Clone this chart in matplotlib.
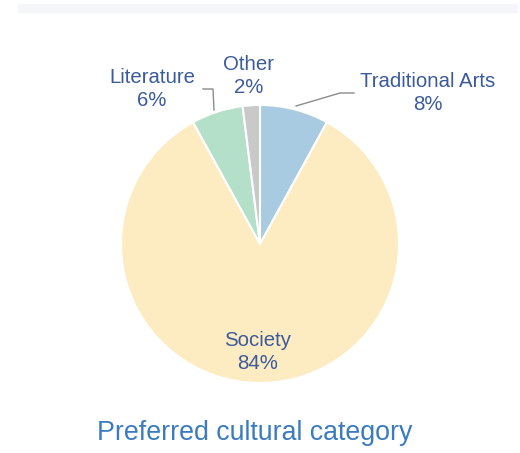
import matplotlib.pyplot as plt

# data
categories = ['Traditional Arts', 'Society', 'Literature', 'Other']
shares = [8, 84, 6, 2]
colors = ['#a8cbe1', '#fdebc2', '#b4e0c9', '#c9c9c9']

label_color = '#3b5b9c'
title_color = '#3b7bc0'

fig = plt.figure(figsize=(5.2, 4.53), dpi=100)
ax = fig.add_axes([0, 0, 1, 1])

# faint screenshot frame at the top
ax.axhspan(441, 449, xmin=0.035, xmax=0.995, color='#f5f6f9', zorder=0)

wedges, _ = ax.pie(shares, colors=colors, startangle=90, counterclock=False,
                   center=(260, 209), radius=139, frame=True,
                   wedgeprops=dict(edgecolor='white', linewidth=1.5))
ax.set_xlim(0, 520)
ax.set_ylim(0, 453)
ax.set_aspect('equal')
ax.axis('off')

# labels (pixel positions, y up)
font = dict(color=label_color, fontsize=14.7, ha='center', va='center',
            linespacing=1.25, family='Liberation Sans')
ax.text(428, 360, f'{categories[0]}\n{shares[0]}%', **font)
ax.text(258, 101, f'{categories[1]}\n{shares[1]}%', **font)
ax.text(152, 364, f'{categories[2]}\n{shares[2]}%', **font)
ax.text(249, 377, f'{categories[3]}\n{shares[3]}%', **font)

# leader lines
ax.plot([296, 340, 354], [347, 360, 360], color='#8c8c8c', lw=1)
ax.plot([214, 213, 203], [343, 364, 364], color='#8c8c8c', lw=1)

ax.text(255, 20, 'Preferred cultural category', color=title_color,
        fontsize=19.3, ha='center', va='center', family='Liberation Sans')

fig.savefig('out.png', dpi=100)
